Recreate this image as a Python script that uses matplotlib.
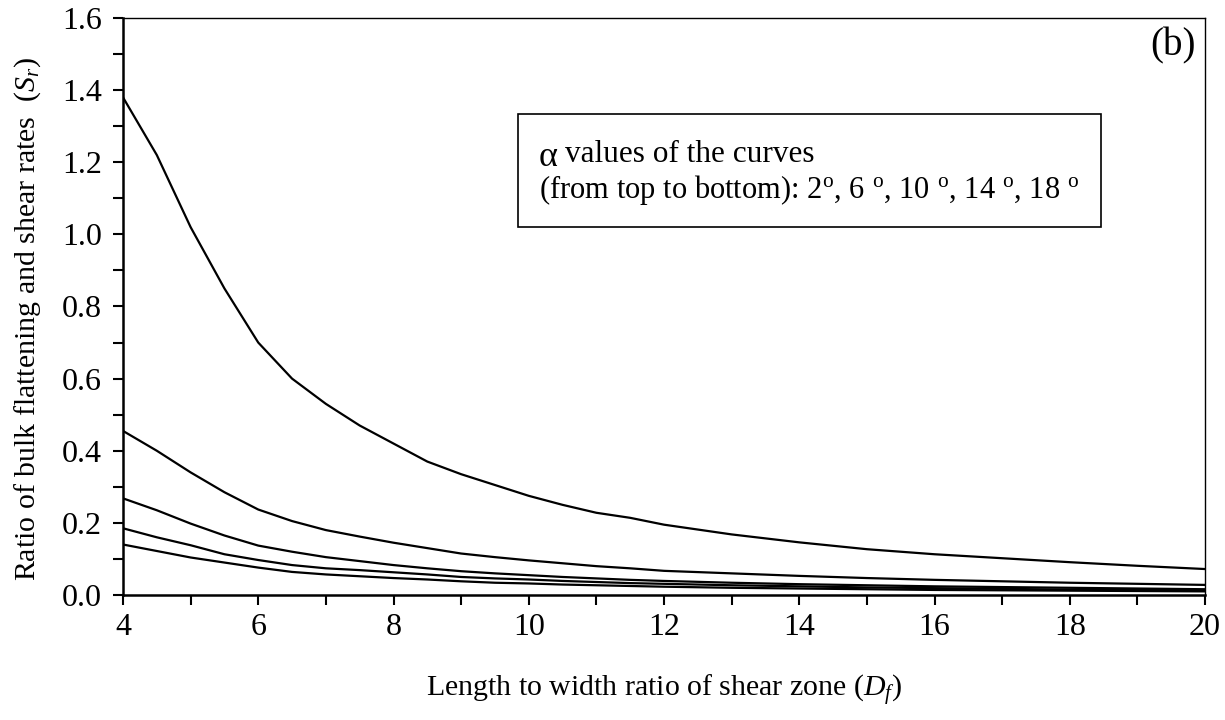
import matplotlib
matplotlib.use("Agg")
import matplotlib.pyplot as plt
from matplotlib.patches import Rectangle
from matplotlib.ticker import MultipleLocator

plt.rcParams['font.family'] = ['Liberation Serif', 'DejaVu Serif']
plt.rcParams['mathtext.fontset'] = 'custom'
plt.rcParams['mathtext.rm'] = 'Liberation Serif'
plt.rcParams['mathtext.it'] = 'Liberation Serif:italic'

# length to width ratio of shear zone (Df)
df = [4, 4.5, 5, 5.5, 6, 6.5, 7, 7.5, 8, 8.5, 9, 9.5, 10, 10.5, 11, 11.5, 12,
      13, 14, 15, 16, 17, 18, 19, 20]

# Sr curves, alpha = 2, 6, 10, 14, 18 degrees (top to bottom)
sr_02 = [1.38, 1.22, 1.02, 0.85, 0.70, 0.60, 0.53, 0.47, 0.42, 0.37, 0.335, 0.305,
         0.275, 0.25, 0.228, 0.214, 0.195, 0.168, 0.146, 0.127, 0.113, 0.102,
         0.091, 0.081, 0.072]
sr_06 = [0.455, 0.40, 0.34, 0.285, 0.237, 0.205, 0.18, 0.162, 0.145, 0.13, 0.115,
         0.105, 0.096, 0.088, 0.08, 0.074, 0.067, 0.06, 0.053, 0.047, 0.042,
         0.038, 0.034, 0.031, 0.028]
sr_10 = [0.268, 0.235, 0.198, 0.165, 0.137, 0.12, 0.105, 0.094, 0.083, 0.074,
         0.066, 0.06, 0.055, 0.05, 0.046, 0.042, 0.039, 0.034, 0.03, 0.027,
         0.024, 0.022, 0.02, 0.018, 0.016]
sr_14 = [0.185, 0.16, 0.138, 0.113, 0.097, 0.083, 0.074, 0.069, 0.063, 0.057,
         0.05, 0.046, 0.043, 0.039, 0.036, 0.033, 0.031, 0.027, 0.024, 0.021,
         0.019, 0.017, 0.015, 0.014, 0.013]
sr_18 = [0.14, 0.122, 0.104, 0.09, 0.076, 0.064, 0.057, 0.052, 0.047, 0.043,
         0.038, 0.034, 0.032, 0.029, 0.027, 0.025, 0.023, 0.02, 0.018, 0.016,
         0.014, 0.013, 0.012, 0.011, 0.01]

fig = plt.figure(figsize=(12.25, 7.2), dpi=100)
ax = fig.add_axes([123/1225, 1-595/720, (1205-123)/1225, (595-18)/720])

for sr in [sr_02, sr_06, sr_10, sr_14, sr_18]:
    ax.plot(df, sr, color='black', linewidth=1.6)

ax.set_xlim(4, 20)
ax.set_ylim(0, 1.6)
ax.xaxis.set_major_locator(MultipleLocator(2))
ax.xaxis.set_minor_locator(MultipleLocator(1))
ax.yaxis.set_major_locator(MultipleLocator(0.2))
ax.yaxis.set_minor_locator(MultipleLocator(0.1))
ax.yaxis.set_major_formatter(plt.FormatStrFormatter('%.1f'))
ax.tick_params(which='both', direction='out', length=7, width=1.5,
               labelsize=23, top=False, right=False)
ax.tick_params(axis='x', pad=6)
ax.tick_params(axis='y', pad=8)

ax.spines['left'].set_linewidth(1.8)
ax.spines['bottom'].set_linewidth(1.8)
ax.spines['top'].set_linewidth(1.0)
ax.spines['right'].set_linewidth(1.0)

ax.set_xlabel('Length to width ratio of shear zone ($D_f$)', fontsize=21.5, labelpad=22)
ax.set_ylabel('Ratio of bulk flattening and shear rates  ($S_r$)', fontsize=21.5)
ax.yaxis.set_label_coords(-0.074, 0.478)

ax.text(0.991, 0.951, '(b)', transform=ax.transAxes, ha='right', va='center', fontsize=28)

# annotation box
fig.patches.append(Rectangle((518/1225, 1-227/720), (1101-518)/1225, (227-114)/720,
                             transform=fig.transFigure, fill=False,
                             edgecolor='black', linewidth=1.2))
fig.text(539/1225, 1-157/720, 'α', fontsize=26, va='center', ha='left')
fig.text(565/1225, 1-155/720, 'values of the curves', fontsize=22.5, va='center', ha='left')
fig.text(539/1225, 1-190/720,
         '(from top to bottom): 2$^{\\rm o}$, 6 $^{\\rm o}$, 10 $^{\\rm o}$, 14 $^{\\rm o}$, 18 $^{\\rm o}$',
         fontsize=22, va='center', ha='left')

fig.savefig('out.png', dpi=100)
